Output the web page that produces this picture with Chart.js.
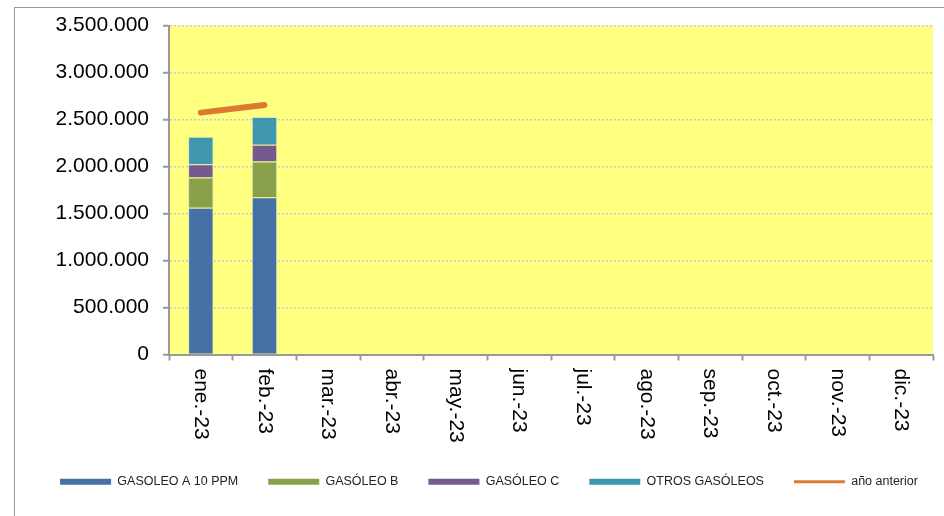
<!DOCTYPE html>
<html>
<head>
<meta charset="utf-8">
<script src="https://cdn.jsdelivr.net/npm/chart.js@4"></script>
<style>
    html, body { margin: 0; padding: 0; background: #fff; overflow: hidden; }
    #frame { position: absolute; left: 14px; top: 7px; width: 940px; height: 520px; border-left: 1px solid #999; border-top: 1px solid #999; }
    #wrap { position: absolute; left: 14px; top: -1px; width: 950px; height: 517px; }
</style>
</head>
<body>
<div id="frame"></div>
<div id="wrap"><canvas id="chart" width="950" height="517"></canvas></div>
<script>
var meses = ['ene.-23', 'feb.-23', 'mar.-23', 'abr.-23', 'may.-23', 'jun.-23', 'jul.-23', 'ago.-23', 'sep.-23', 'oct.-23', 'nov.-23', 'dic.-23'];
var gasoleoA = [1561000, 1674000, null, null, null, null, null, null, null, null, null, null];
var gasoleoB = [322000, 379000, null, null, null, null, null, null, null, null, null, null];
var gasoleoC = [141000, 178000, null, null, null, null, null, null, null, null, null, null];
var otros = [292000, 297000, null, null, null, null, null, null, null, null, null, null];
var anioAnterior = [2574000, 2656000, null, null, null, null, null, null, null, null, null, null];
var yMax = 3500000;
var yStep = 500000;

var fuente = '"Liberation Sans", Arial, sans-serif';

function miles(v) {
    return String(v).replace(/\B(?=(\d{3})+(?!\d))/g, '.');
}

// fondo amarillo del area de grafico
var fondo = {
    id: 'fondo',
    beforeDraw: function (chart) {
        var a = chart.chartArea;
        var ctx = chart.ctx;
        ctx.save();
        ctx.fillStyle = '#ffff80';
        ctx.fillRect(a.left, a.top, a.right - a.left, a.bottom - a.top);
        ctx.restore();
    }
};

// etiquetas del eje x giradas 90 grados (se leen de arriba a abajo)
var etiquetasX = {
    id: 'etiquetasX',
    afterDraw: function (chart) {
        var x = chart.scales.x;
        var ctx = chart.ctx;
        ctx.save();
        ctx.fillStyle = '#000';
        ctx.font = '21px ' + fuente;
        ctx.textAlign = 'left';
        ctx.textBaseline = 'middle';
        for (var i = 0; i < meses.length; i++) {
            ctx.save();
            ctx.translate(x.getPixelForTick(i), x.top + 14);
            ctx.rotate(Math.PI / 2);
            ctx.fillText(meses[i], 0, 0);
            ctx.restore();
        }
        ctx.restore();
    }
};

var ctx = document.getElementById('chart').getContext('2d');
var myChart = new Chart(ctx, {
    data: {
        labels: meses,
        datasets: [
            { type: 'bar', label: 'GASOLEO A 10 PPM', data: gasoleoA, backgroundColor: '#4671a6', stack: 'a' },
            { type: 'bar', label: 'GASÓLEO B', data: gasoleoB, backgroundColor: '#89a04b', stack: 'a' },
            { type: 'bar', label: 'GASÓLEO C', data: gasoleoC, backgroundColor: '#765a8f', stack: 'a' },
            { type: 'bar', label: 'OTROS GASÓLEOS', data: otros, backgroundColor: '#3f97ad', stack: 'a' },
            { type: 'line', label: 'año anterior', data: anioAnterior, borderColor: '#dc7a30', backgroundColor: '#dc7a30', borderWidth: 6, borderCapStyle: 'round', pointRadius: 0, stack: 'b', spanGaps: false }
        ]
    },
    options: {
        responsive: false,
        animation: false,
        events: [],
        layout: { padding: { left: 0, right: 0, top: 0, bottom: 18 } },
        datasets: {
            bar: { categoryPercentage: 1, barPercentage: 0.4, borderWidth: 1, borderColor: 'rgba(200,215,230,0.6)' }
        },
        scales: {
            x: {
                stacked: true,
                ticks: { display: false },
                grid: { drawOnChartArea: false, drawTicks: true, tickLength: 6, tickColor: '#999', tickWidth: 2, offset: true },
                border: { color: '#999', width: 2 },
                afterFit: function (scale) { scale.height = 91; }
            },
            y: {
                stacked: true,
                min: 0,
                max: yMax,
                ticks: {
                    stepSize: yStep,
                    padding: 14,
                    color: '#000',
                    font: { family: fuente, size: 21 },
                    callback: function (v) { return miles(v); }
                },
                grid: { color: '#c4cad2', lineWidth: 1.5, tickColor: '#999', tickWidth: 2, tickLength: 6 },
                border: { color: '#999', width: 2, dash: [2, 2] },
                afterFit: function (scale) { scale.width = 155; }
            },
            // eje vacio a la derecha solo para dejar el margen
            margen: {
                position: 'right',
                display: true,
                ticks: { display: false },
                grid: { display: false },
                border: { display: false },
                afterFit: function (scale) { scale.width = 31; }
            }
        },
        plugins: {
            tooltip: { enabled: false },
            legend: {
                position: 'bottom',
                labels: {
                    usePointStyle: true,
                    pointStyleWidth: 51,
                    boxHeight: 6,
                    padding: 30,
                    color: '#222',
                    font: { family: fuente, size: 12.5 },
                    generateLabels: function (chart) {
                        var items = Chart.defaults.plugins.legend.labels.generateLabels(chart);
                        items.forEach(function (it) {
                            var ds = chart.data.datasets[it.datasetIndex];
                            if (ds.type === 'line') {
                                it.pointStyle = 'line';
                                it.lineWidth = 3;
                                it.strokeStyle = ds.borderColor;
                            } else {
                                it.pointStyle = 'rect';
                                it.lineWidth = 0;
                                it.fillStyle = ds.backgroundColor;
                            }
                        });
                        return items;
                    }
                }
            }
        }
    },
    plugins: [fondo, etiquetasX]
});
</script>
</body>
</html>
